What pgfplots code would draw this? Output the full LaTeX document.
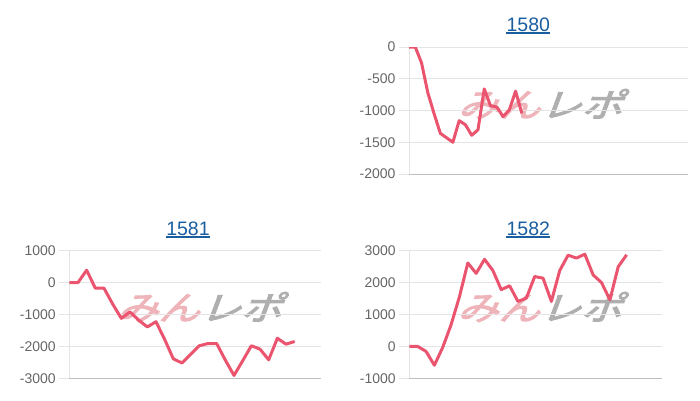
\documentclass[border=0pt]{standalone}
\usepackage{fontspec}
\setmainfont{Liberation Sans}
\newfontfamily\jp{Noto Sans CJK JP}[AutoFakeBold=3]
\usepackage{pgfplots}
\pgfplotsset{compat=1.18}
\definecolor{linec}{RGB}{235,84,110}
\definecolor{gridc}{RGB}{228,228,228}
\definecolor{zeroc}{RGB}{190,190,190}
\definecolor{tickc}{RGB}{102,102,102}
\definecolor{titlec}{RGB}{26,94,160}
\definecolor{wmpink}{RGB}{238,180,186}
\definecolor{wmgrey}{RGB}{175,175,175}
\pgfplotsset{mini/.style={
  scale only axis, anchor=south west, xmin=0,
  xtick=\empty,
  axis x line*=bottom, axis y line*=left,
  x axis line style={zeroc, line width=1pt, -},
  y axis line style={gridc, line width=1pt, -},
  ymajorgrids, major grid style={gridc, line width=1pt},
  extra y ticks={0},
  extra y tick style={grid style={zeroc, line width=1pt}},
  tick align=outside, major tick length=10pt,
  ytick style={gridc, line width=1pt},
  yticklabel style={font=\fontsize{14}{16}\selectfont, text=tickc},
  /pgf/number format/assume math mode=true,
  /pgf/number format/1000 sep={},
  scaled y ticks=false,
}}
\newcommand\wm[1]{\node[inner sep=0, xscale=1.25, xslant=0.3, font=\jp\bfseries\fontsize{33}{35}\selectfont] at (#1) {\textcolor{wmpink}{みん}\textcolor{wmgrey}{レポ}};}
\newcommand\ttl[2]{\node[inner sep=0, anchor=base, text=titlec, font=\fontsize{19.5}{22}\selectfont] (t) at (#1) {#2};
  \draw[titlec, line width=1.3pt] ([yshift=-2pt]t.base west) -- ([yshift=-2pt]t.base east);}
\begin{document}
\begin{tikzpicture}
\path[use as bounding box] (0,0) rectangle (700pt,400pt);
\wm{545pt,296pt}
\wm{204.5pt,93pt}
\wm{544.5pt,93pt}
\ttl{528.3pt,369pt}{1580}
\ttl{188pt,165pt}{1581}
\ttl{528.3pt,165pt}{1582}
% 1580
\begin{axis}[mini, at={(409pt,226pt)}, width=279pt, height=127pt,
  xmax=44.5, ymin=-2000, ymax=0, ytick={-2000,-1500,-1000,-500}]
\addplot[linec, line width=3pt, line join=round] coordinates {
(0,0) (1,0) (2,-250) (3,-720) (4,-1050) (5,-1360) (6,-1430) (7,-1500)
(8,-1160) (9,-1225) (10,-1390) (11,-1305) (12,-660) (13,-925) (14,-945)
(15,-1095) (16,-990) (17,-695) (18,-1045)};
\end{axis}
% 1581
\begin{axis}[mini, at={(69.3pt,21.7pt)}, width=251.4pt, height=127.6pt,
  xmax=29, ymin=-3000, ymax=1000, ytick={-3000,-2000,-1000,1000}]
\addplot[linec, line width=3pt, line join=round] coordinates {
(0,0) (1,0) (2,390) (3,-175) (4,-175) (5,-670) (6,-1120) (7,-920)
(8,-1175) (9,-1390) (10,-1225) (11,-1780) (12,-2390) (13,-2520)
(14,-2250) (15,-1980) (16,-1910) (17,-1910) (18,-2430) (19,-2910)
(20,-2450) (21,-1980) (22,-2085) (23,-2420) (24,-1745) (25,-1930) (26,-1845)};
\end{axis}
% 1582
\begin{axis}[mini, at={(409.3pt,21.7pt)}, width=252.4pt, height=127.6pt,
  xmax=30.2, ymin=-1000, ymax=3000, ytick={-1000,1000,2000,3000}]
\addplot[linec, line width=3pt, line join=round] coordinates {
(0,0) (1,0) (2,-156) (3,-590) (4,-30) (5,680) (6,1560) (7,2615)
(8,2290) (9,2730) (10,2380) (11,1780) (12,1900) (13,1410) (14,1510)
(15,2190) (16,2140) (17,1410) (18,2380) (19,2860) (20,2770) (21,2890)
(22,2240) (23,2000) (24,1460) (25,2500) (26,2870)};
\end{axis}
\end{tikzpicture}
\end{document}
